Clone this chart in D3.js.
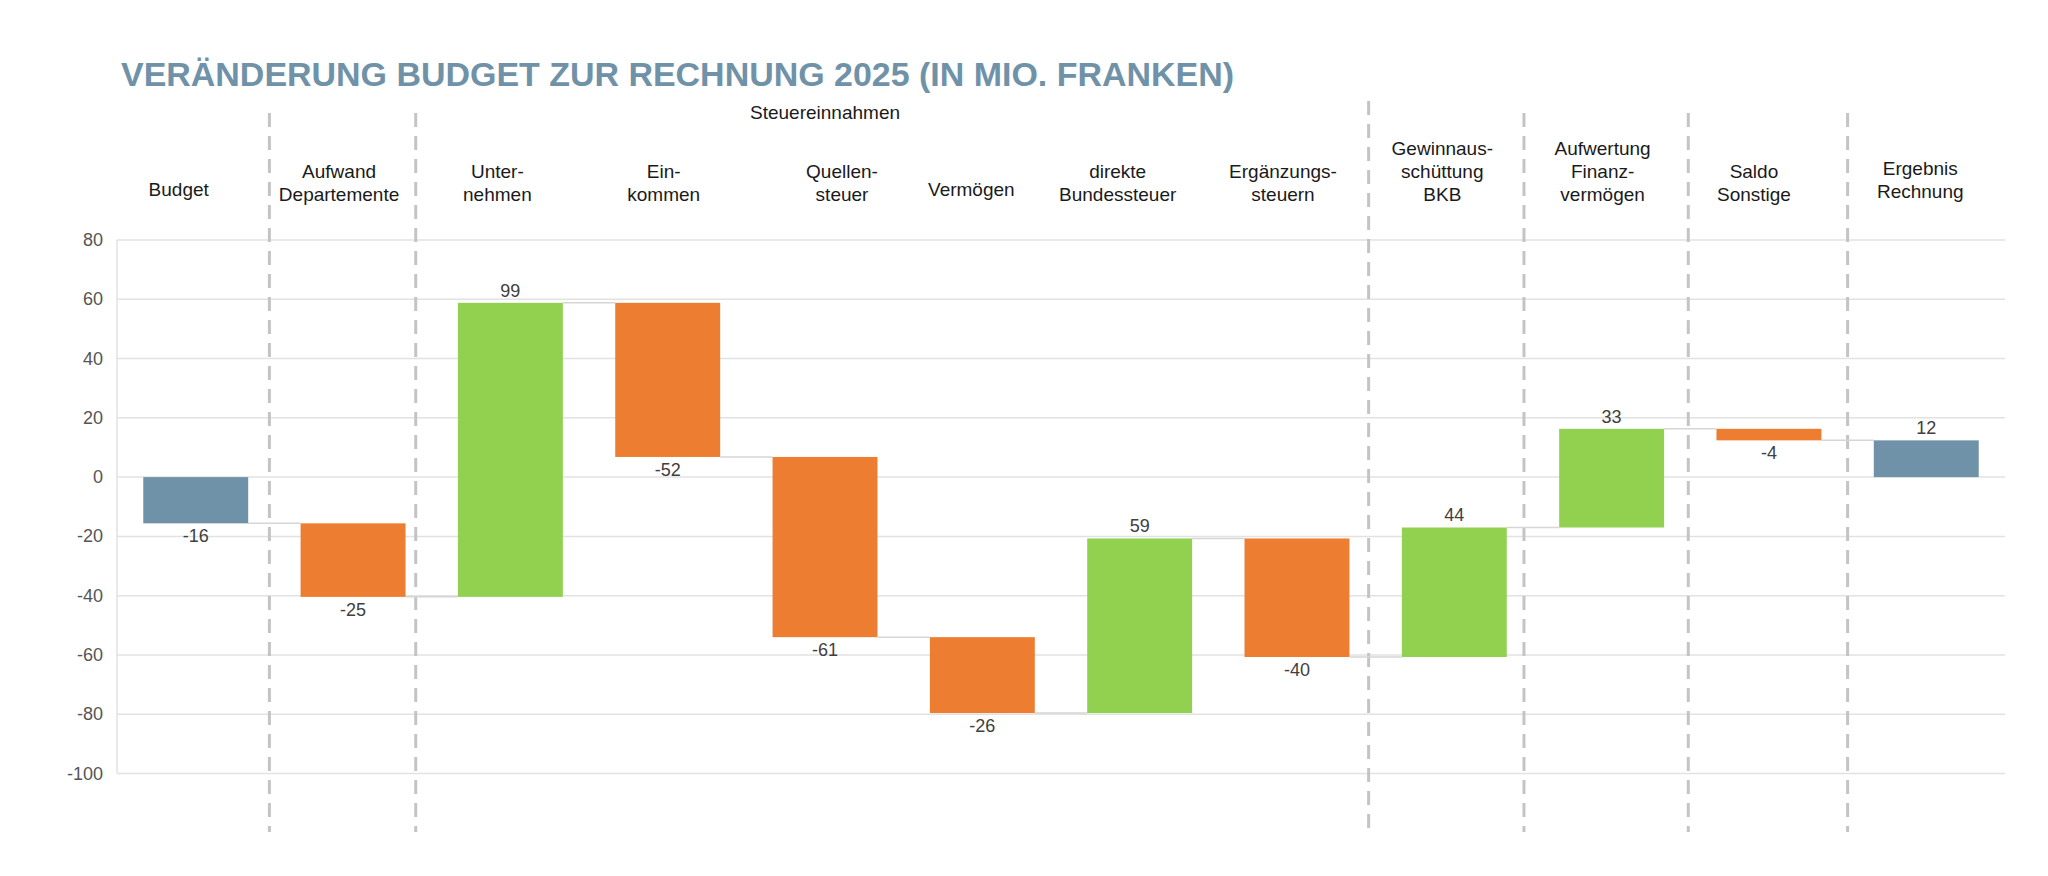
<!DOCTYPE html>
<html>
<head>
<meta charset="utf-8">
<script src="https://cdn.jsdelivr.net/npm/d3@7"></script>
<style>
  body { margin: 0; background: #fff; }
  text { font-family: "Liberation Sans", Arial, sans-serif; }
</style>
</head>
<body>
<script>
const width = 2048;
const height = 876;

// categories (line breaks with "|")
const categories = ["Budget", "Aufwand|Departemente", "Unter-|nehmen", "Ein-|kommen", "Quellen-|steuer",
                    "Vermögen", "direkte|Bundessteuer", "Ergänzungs-|steuern", "Gewinnaus-|schüttung|BKB",
                    "Aufwertung|Finanz-|vermögen", "Saldo|Sonstige", "Ergebnis|Rechnung"];
// change per category, Mio. Franken (last one is the result, computed)
const values = [-15.6, -24.8, 99.2, -52.0, -60.8, -25.6, 58.9, -40.0, 43.7, 33.3, -3.9, null];
const kinds = ["total", "delta", "delta", "delta", "delta", "delta", "delta", "delta", "delta", "delta", "delta", "total"];
const yTicks = [80, 60, 40, 20, 0, -20, -40, -60, -80, -100];
const groupLabel = "Steuereinnahmen";
const separatorsAfter = [0, 1, 7, 8, 9, 10];

const colors = {total: "#7092a8", up: "#92d050", down: "#ed7d31"};

const svg = d3.select("body").append("svg")
    .attr("width", width).attr("height", height);

svg.append("text")
    .attr("x", 121).attr("y", 86)
    .attr("font-size", 34).attr("font-weight", "bold")
    .attr("fill", "#7092a8")
    .attr("textLength", 1113).attr("lengthAdjust", "spacingAndGlyphs")
    .text("VERÄNDERUNG BUDGET ZUR RECHNUNG 2025 (IN MIO. FRANKEN)");

const plotLeft = 117, plotRight = 2005;

const x = d3.scaleBand().domain(categories).range([plotLeft, plotRight])
    .paddingInner(0.333).paddingOuter(0.167);
const y = d3.scaleLinear().domain([-100, 80]).range([773.5, 240]);

// waterfall steps
let running = 0;
const steps = categories.map((c, i) => {
    let start, end;
    if (kinds[i] == "total" && values[i] === null) {
        start = 0; end = running;
    } else if (kinds[i] == "total") {
        start = 0; end = values[i]; running = end;
    } else {
        start = running; end = running + values[i]; running = end;
    }
    const v = end - start;
    return {cat: c, start, end, v, kind: kinds[i],
            fill: kinds[i] == "total" ? colors.total : (v >= 0 ? colors.up : colors.down)};
});

// grid
svg.append("g").selectAll("line").data(yTicks).join("line")
    .attr("x1", plotLeft).attr("x2", plotRight)
    .attr("y1", d => y(d)).attr("y2", d => y(d))
    .attr("stroke", "#e2e2e2").attr("stroke-width", 1.5);
svg.append("line")
    .attr("x1", plotLeft).attr("x2", plotLeft)
    .attr("y1", y(80)).attr("y2", y(-100))
    .attr("stroke", "#e2e2e2").attr("stroke-width", 1.5);

svg.append("g").selectAll("text").data(yTicks).join("text")
    .attr("x", 103).attr("y", d => y(d) + 6)
    .attr("text-anchor", "end")
    .attr("font-size", 18).attr("fill", "#555")
    .text(d => d);

// separators
const step = x.step();
const sepNudge = [-5, -16, -7, -9, -2, 0];
const sepX = (d, i) => x(categories[d]) + x.bandwidth() + (step - x.bandwidth()) / 2 + sepNudge[i];
svg.append("g").selectAll("line").data(separatorsAfter).join("line")
    .attr("x1", sepX).attr("x2", sepX)
    .attr("y1", d => d == 7 ? 101 : 113).attr("y2", 832)
    .attr("stroke", "#c4c4c4").attr("stroke-width", 3)
    .attr("stroke-dasharray", "14,9");

// connectors
svg.append("g").selectAll("line").data(steps.slice(0, -1)).join("line")
    .attr("x1", d => x(d.cat) + x.bandwidth())
    .attr("x2", (d, i) => x(steps[i + 1].cat))
    .attr("y1", d => y(d.end)).attr("y2", d => y(d.end))
    .attr("stroke", "#d6d6d6").attr("stroke-width", 1.5);

// bars
svg.append("g").selectAll("rect").data(steps).join("rect")
    .attr("x", d => x(d.cat))
    .attr("width", x.bandwidth())
    .attr("y", d => y(Math.max(d.start, d.end)))
    .attr("height", d => Math.abs(y(d.start) - y(d.end)))
    .attr("fill", d => d.fill);

// value labels
svg.append("g").selectAll("text").data(steps).join("text")
    .attr("x", d => x(d.cat) + x.bandwidth() / 2)
    .attr("y", d => d.v >= 0 ? y(Math.max(d.start, d.end)) - 6 : y(Math.min(d.start, d.end)) + 19)
    .attr("text-anchor", "middle")
    .attr("font-size", 18).attr("fill", "#404040")
    .text(d => Math.round(d.v));

// category labels (hand placed in the original, so small nudges)
const labelDx = [-17, -14, -13, -4, 17, -11, -22, -14, -12, -9, -15, -6];
const labelDy = [0, 0, 0, 0, 0, 0, 0, 0, 0, 0, 0, -3];
const catLabels = svg.append("g").selectAll("text").data(categories).join("text")
    .attr("text-anchor", "middle")
    .attr("font-size", 19).attr("fill", "#1a1a1a");
catLabels.each(function(c, i) {
    const lines = c.split("|");
    const cx = x(c) + x.bandwidth() / 2 + labelDx[i];
    d3.select(this).selectAll("tspan").data(lines).join("tspan")
        .attr("x", cx)
        .attr("y", (l, j) => 201 + labelDy[i] - (lines.length - 1 - j) * 23 - (lines.length == 1 ? 5 : 0))
        .text(l => l);
});

svg.append("text")
    .attr("x", x(categories[4]) + x.bandwidth() / 2).attr("y", 119)
    .attr("text-anchor", "middle")
    .attr("font-size", 19).attr("fill", "#1a1a1a")
    .text(groupLabel);
</script>
</body>
</html>
